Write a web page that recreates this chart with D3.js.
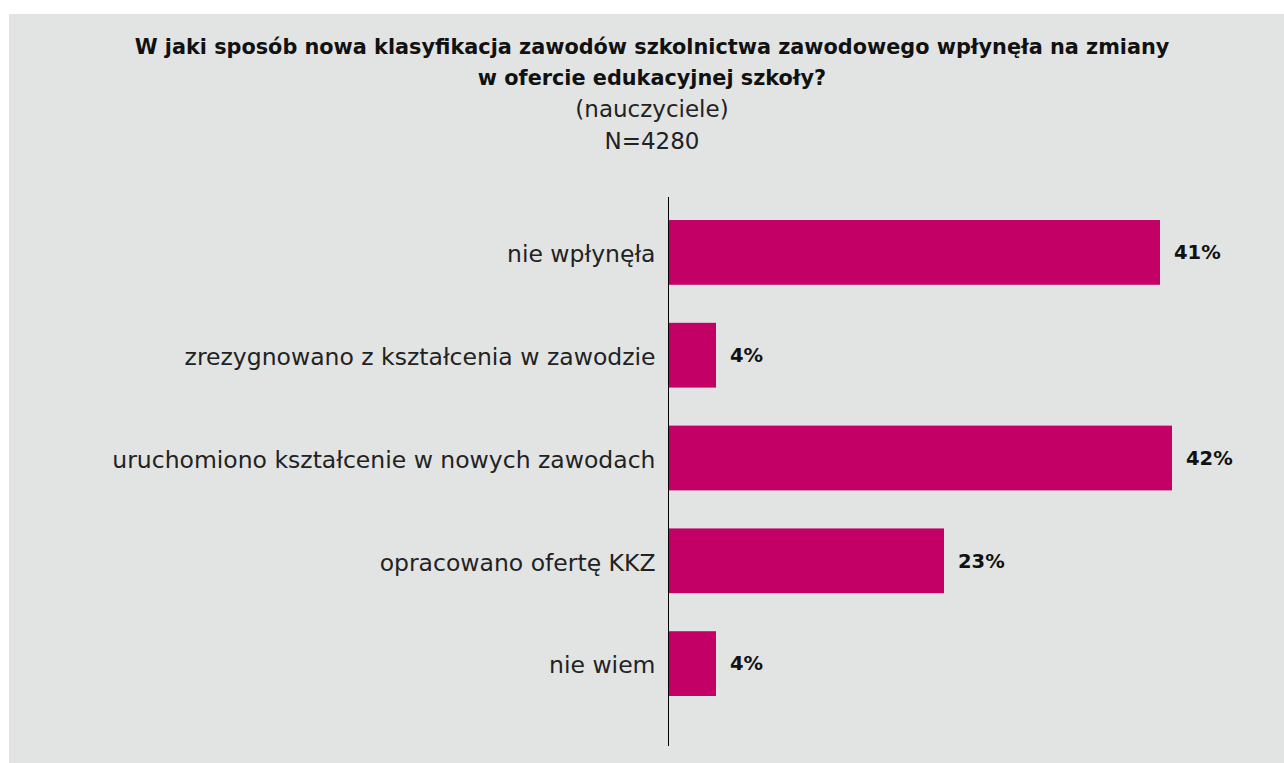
<!DOCTYPE html>
<html lang="pl">
<head>
<meta charset="utf-8">
<script src="https://cdn.jsdelivr.net/npm/d3@7"></script>
<style>
  html, body { margin: 0; padding: 0; background: #ffffff; }
  svg { display: block; }
</style>
</head>
<body>
<svg id="chart" width="1284" height="763"></svg>
<script>
// Survey answers (teachers), share of respondents in %
const categories = [
  "nie wpłynęła",
  "zrezygnowano z kształcenia w zawodzie",
  "uruchomiono kształcenie w nowych zawodach",
  "opracowano ofertę KKZ",
  "nie wiem"
];
const values = [41, 4, 42, 23, 4];
const valueLabels = ["41%", "4%", "42%", "23%", "4%"];

const titleLines = [
  "W jaki sposób nowa klasyfikacja zawodów szkolnictwa zawodowego wpłynęła na zmiany",
  "w ofercie edukacyjnej szkoły?"
];
const subtitleLines = ["(nauczyciele)", "N=4280"];

const W = 1284, H = 763;
const svg = d3.select("#chart");

// grey panel
svg.append("rect")
  .attr("x", 9).attr("y", 14)
  .attr("width", W - 9).attr("height", H - 14)
  .attr("fill", "#e2e4e3");

const cx = 652;
const fontFamily = "'DejaVu Sans', sans-serif";

svg.append("g").selectAll("text")
  .data(titleLines)
  .join("text")
  .attr("x", cx)
  .attr("y", (d, i) => 54 + i * 31)
  .attr("text-anchor", "middle")
  .attr("font-family", fontFamily)
  .attr("font-weight", "bold")
  .attr("font-size", 20.8)
  .attr("fill", "#111")
  .text(d => d);

svg.append("g").selectAll("text")
  .data(subtitleLines)
  .join("text")
  .attr("x", cx)
  .attr("y", (d, i) => 117 + i * 32)
  .attr("text-anchor", "middle")
  .attr("font-family", fontFamily)
  .attr("font-size", 23)
  .attr("fill", "#222")
  .text(d => d);

// scales
const x = d3.scaleLinear().domain([0, 50]).range([668, 1268]);
const y = d3.scaleBand()
  .domain(categories)
  .range([201, 715])
  .paddingInner(0.37)
  .paddingOuter(0.185);

// bars
svg.append("g").selectAll("rect")
  .data(values)
  .join("rect")
  .attr("x", x(0))
  .attr("y", (d, i) => y(categories[i]))
  .attr("width", d => x(d) - x(0))
  .attr("height", y.bandwidth())
  .attr("fill", "#c20066");

// category axis
const axis = d3.axisLeft(y).tickSize(0).tickPadding(13);
const gAxis = svg.append("g")
  .attr("transform", `translate(${x(0) + 0.5},0)`)
  .call(axis);
gAxis.select(".domain").remove();
gAxis.selectAll("text")
  .attr("font-family", fontFamily)
  .attr("font-size", 23.5)
  .attr("fill", "#222")
  .attr("dy", "0.42em");

// vertical baseline
svg.append("line")
  .attr("x1", x(0) + 0.5).attr("x2", x(0) + 0.5)
  .attr("y1", 197).attr("y2", 746)
  .attr("stroke", "#000")
  .attr("stroke-width", 1);

// value labels
svg.append("g").selectAll("text")
  .data(values)
  .join("text")
  .attr("x", d => x(d) + 14)
  .attr("y", (d, i) => y(categories[i]) + y.bandwidth() / 2)
  .attr("dy", "0.35em")
  .attr("font-family", fontFamily)
  .attr("font-weight", "bold")
  .attr("font-size", 19.5)
  .attr("fill", "#111")
  .text((d, i) => valueLabels[i]);
</script>
</body>
</html>
